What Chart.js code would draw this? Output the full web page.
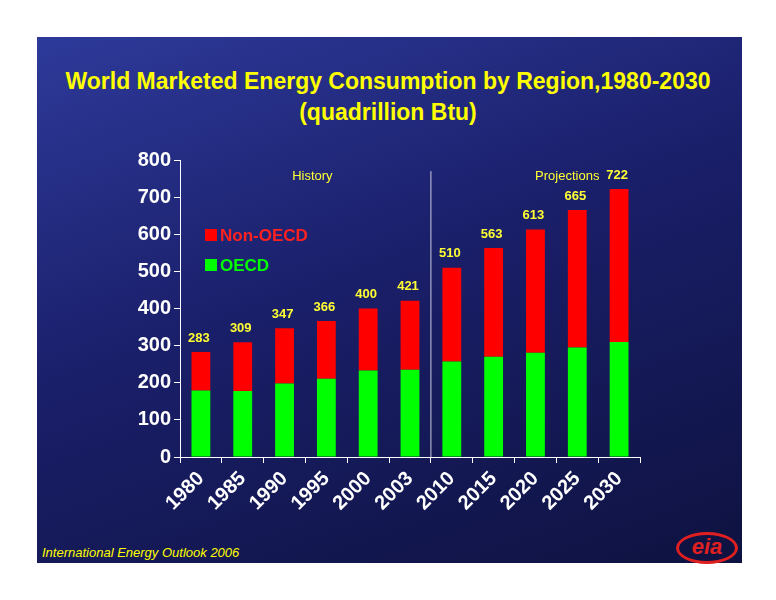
<!DOCTYPE html>
<html><head><meta charset="utf-8">
<script src="https://cdn.jsdelivr.net/npm/chart.js@4"></script>
<style>
body{margin:0;background:#fff;font-family:"Liberation Sans",Arial,sans-serif;}
#slide{position:absolute;left:37px;top:37px;width:705px;height:526px;background:linear-gradient(160deg,#2e3a9a 0%,#1a1f6a 45%,#0e1240 100%);}
#title{position:absolute;left:0;top:66px;width:776px;text-align:center;color:#ffff00;font-weight:bold;font-size:23px;line-height:31px;}
#chart{position:absolute;left:100px;top:145px;}
.leg{position:absolute;font-weight:bold;font-size:17px;}
.leg span{display:inline-block;width:12px;height:12px;margin-right:3px;}
#foot{position:absolute;left:42px;top:545px;color:#ffff00;font-style:italic;font-size:13px;}
#logo{position:absolute;left:676px;top:532px;width:56px;height:26px;border:3px solid #e02020;border-radius:50%;color:#e02020;font:italic bold 22px "Liberation Sans";text-align:center;line-height:24px;}
</style></head><body>
<div id="slide"></div>
<div id="title">World Marketed Energy Consumption by Region,1980-2030<br>(quadrillion Btu)</div>
<canvas id="chart" width="560" height="400"></canvas>
<div class="leg" style="left:205px;top:226px;color:#ff2020"><span style="background:#ff0000"></span>Non-OECD</div>
<div class="leg" style="left:205px;top:256px;color:#00ff00"><span style="background:#00ff00"></span>OECD</div>
<div id="foot">International Energy Outlook 2006</div>
<div id="logo">eia</div>
<script>
const years = ["1980","1985","1990","1995","2000","2003","2010","2015","2020","2025","2030"];
const oecd = [179, 178, 198, 211, 233, 235, 257, 270, 281, 295, 310];
const totals = [283, 309, 347, 366, 400, 421, 510, 563, 613, 665, 722];
const nonOecd = totals.map((t, i) => t - oecd[i]);

const extras = {
  id: "extras",
  afterDatasetsDraw(chart) {
    const ctx = chart.ctx, x = chart.scales.x, y = chart.scales.y;
    ctx.save();
    ctx.fillStyle = "#ffff33";
    ctx.font = "bold 13px 'Liberation Sans'";
    ctx.textAlign = "center";
    ctx.textBaseline = "middle";
    totals.forEach((t, i) => {
      ctx.fillText(t, x.getPixelForValue(i) - 2, y.getPixelForValue(t) - 14);
    });
    ctx.font = "13px 'Liberation Sans'";
    ctx.fillText("History", x.getPixelForValue(3) - 14, y.getPixelForValue(757));
    ctx.fillText("Projections", x.getPixelForValue(9) - 10, y.getPixelForValue(757));
    const xd = (x.getPixelForValue(5) + x.getPixelForValue(6)) / 2;
    ctx.strokeStyle = "#ccccdd";
    ctx.lineWidth = 1;
    ctx.beginPath();
    ctx.moveTo(xd, y.getPixelForValue(770));
    ctx.lineTo(xd, y.getPixelForValue(0));
    ctx.stroke();
    ctx.restore();
  }
};

new Chart(document.getElementById("chart"), {
  type: "bar",
  data: {
    labels: years,
    datasets: [
      { label: "OECD", data: oecd, backgroundColor: "#00ff00", barPercentage: 0.45, categoryPercentage: 1 },
      { label: "Non-OECD", data: nonOecd, backgroundColor: "#ff0000", barPercentage: 0.45, categoryPercentage: 1 }
    ]
  },
  options: {
    responsive: false,
    animation: false,
    layout: { padding: { top: 5, right: 20 } },
    plugins: { legend: { display: false }, tooltip: { enabled: false } },
    scales: {
      x: {
        stacked: true,
        grid: { drawOnChartArea: false, color: "#fff", tickLength: 6, offset: true },
        border: { color: "#fff" },
        ticks: { color: "#fff", font: { size: 20, weight: "bold", family: "Liberation Sans" }, maxRotation: 45, minRotation: 45, padding: 4 },
        afterFit: s => { s.height = 88; }
      },
      y: {
        stacked: true, min: 0, max: 800,
        grid: { drawOnChartArea: false, color: "#fff", tickLength: 6 },
        border: { color: "#fff" },
        ticks: { stepSize: 100, color: "#fff", font: { size: 20, weight: "bold", family: "Liberation Sans" } },
        afterFit: s => { s.width = 80; }
      }
    }
  },
  plugins: [extras]
});
</script>
</body></html>
